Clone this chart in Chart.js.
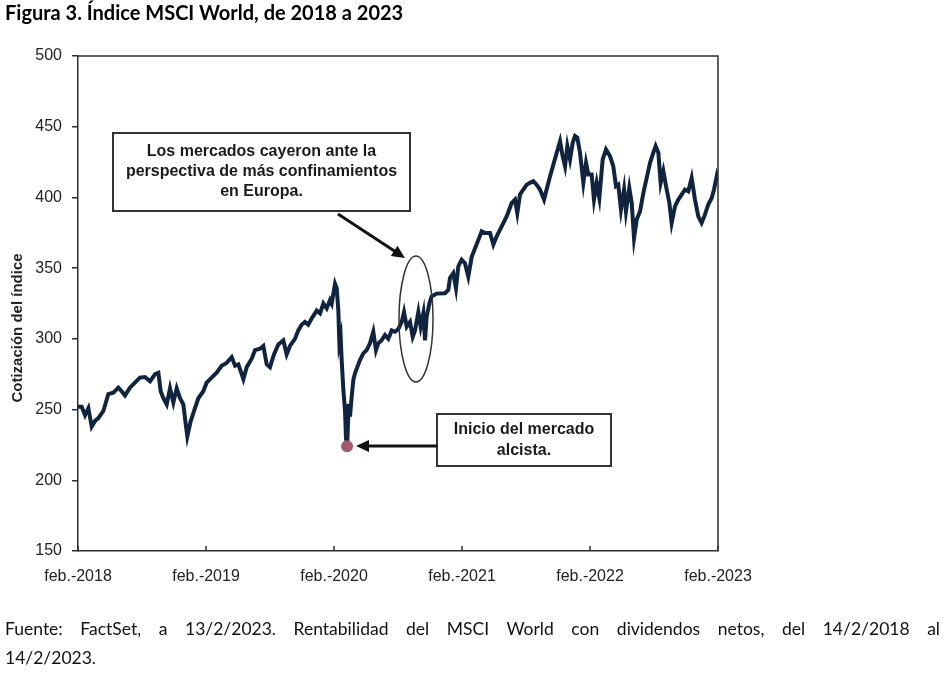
<!DOCTYPE html>
<html lang="es">
<head>
<meta charset="UTF-8">
<title>Índice MSCI World</title>
<script src="https://cdn.jsdelivr.net/npm/chart.js"></script>
<style>
  body { margin: 0; background: #fff; }
  #wrap { position: relative; width: 949px; height: 673px; overflow: hidden; }
  #chart { position: absolute; left: 0; top: 0; }
  .title { position: absolute; left: 5px; top: 0px; font: bold 20px Lato, sans-serif; color: #000; }
  .note { position: absolute; left: 5px; width: 935px; font: 17.5px Lato, sans-serif; color: #111; white-space: nowrap; }
  .note.l1 { top: 618px; text-align: justify; text-align-last: justify; white-space: normal; }
  .note.l2 { top: 647px; }
</style>
</head>
<body>
<div id="wrap">
  <canvas id="chart" width="949" height="673"></canvas>
  <div class="title">Figura 3. Índice MSCI World, de 2018 a 2023</div>
  <div class="note l1">Fuente: FactSet, a 13/2/2023. Rentabilidad del MSCI World con dividendos netos, del 14/2/2018 al</div>
  <div class="note l2">14/2/2023.</div>
</div>
<script>
// years since 14/2/2018 and index level
const t = [0.000, 0.029, 0.055, 0.081, 0.107, 0.133, 0.159, 0.198, 0.237, 0.276,
  0.315, 0.341, 0.367, 0.406, 0.445, 0.484, 0.523, 0.563, 0.602, 0.628,
  0.646, 0.667, 0.693, 0.719, 0.745, 0.771, 0.797, 0.823, 0.844, 0.854,
  0.880, 0.914, 0.940, 0.979, 1.005, 1.044, 1.083, 1.122, 1.161, 1.201,
  1.227, 1.253, 1.292, 1.318, 1.357, 1.383, 1.422, 1.448, 1.474, 1.500,
  1.531, 1.565, 1.604, 1.630, 1.656, 1.695, 1.721, 1.747, 1.773, 1.799,
  1.826, 1.865, 1.891, 1.917, 1.943, 1.969, 1.982, 2.008, 2.021, 2.034,
  2.042, 2.052, 2.060, 2.073, 2.086, 2.094, 2.104, 2.115, 2.125, 2.138,
  2.151, 2.164, 2.182, 2.203, 2.229, 2.255, 2.281, 2.307, 2.328, 2.346,
  2.372, 2.398, 2.424, 2.451, 2.477, 2.503, 2.529, 2.547, 2.568, 2.594,
  2.615, 2.633, 2.659, 2.677, 2.698, 2.711, 2.724, 2.745, 2.763, 2.802,
  2.867, 2.893, 2.906, 2.932, 2.953, 2.971, 2.997, 3.023, 3.049, 3.076,
  3.102, 3.128, 3.154, 3.180, 3.219, 3.245, 3.271, 3.310, 3.349, 3.388,
  3.414, 3.432, 3.453, 3.479, 3.505, 3.531, 3.557, 3.583, 3.609, 3.641,
  3.661, 3.688, 3.714, 3.740, 3.766, 3.786, 3.805, 3.823, 3.844, 3.865,
  3.883, 3.901, 3.922, 3.948, 3.969, 3.987, 4.013, 4.031, 4.052, 4.073,
  4.099, 4.125, 4.156, 4.182, 4.203, 4.221, 4.242, 4.266, 4.281, 4.307,
  4.326, 4.344, 4.365, 4.391, 4.417, 4.443, 4.469, 4.495, 4.513, 4.534,
  4.552, 4.573, 4.594, 4.620, 4.638, 4.664, 4.690, 4.716, 4.742, 4.768,
  4.794, 4.820, 4.846, 4.872, 4.898, 4.924, 4.951, 4.969, 4.990, 5.000];

const msci = [252, 252, 246, 251, 238, 242, 244, 249, 261, 262,
  265.5, 263, 260, 265.5, 269, 272.6, 273, 270, 275, 276,
  263, 258, 253.6, 265, 255, 265, 258, 253.6, 238, 231,
  241.7, 251, 258, 263, 269, 272.6, 276, 281, 283, 287,
  281, 282, 271.5, 280, 286, 292, 293, 295, 282, 280,
  289, 296, 299, 289, 295, 300, 306, 310, 312, 310,
  314.5, 320, 318, 325, 321.6, 327.5, 325, 339, 336, 320,
  297, 301.5, 285, 264, 249.5, 229, 227, 254, 245, 259,
  271, 275.6, 280, 285, 289.7, 292, 296.8, 305, 292, 296.8,
  299, 302.7, 300, 306, 305, 307, 312, 319, 308.6, 312,
  301.5, 306, 319, 308.6, 318, 299, 315.7, 325, 330, 332,
  332.3, 334.6, 343, 346.4, 335.8, 351.2, 356, 353.5, 344, 358,
  364, 370, 376, 374.8, 374.8, 366.6, 372.5, 379.5, 386.6, 396,
  398.5, 389, 402, 405.6, 409, 410.3, 411.5, 409, 405.6, 398.5,
  405.6, 415, 423.3, 431.6, 439.8, 429.2, 422, 436.3, 426.8, 438.7,
  443.4, 442.2, 431.6, 410.3, 424.5, 416.2, 416.2, 398.5, 410.3, 399.6,
  426.8, 433.9, 429.2, 422, 408, 409, 391.4, 405.6, 390.2, 406.7,
  396, 371.3, 384.3, 390.2, 403.2, 413.8, 424.5, 431.6, 436.3, 431.6,
  410.3, 418.6, 408, 396.1, 382, 393.7, 398.5, 402, 405.6, 404.4,
  413.8, 398.5, 386.6, 382, 387.8, 395, 399.6, 405.6, 415, 411.5];

const lowT = [2.102];
const lowV = [224];

const xTickLabels = ['feb.-2018', 'feb.-2019', 'feb.-2020', 'feb.-2021', 'feb.-2022', 'feb.-2023'];
const yMin = 150, yMax = 500, yStep = 50;

const axisColor = '#2e2e2e';

function arrow(ctx, x1, y1, x2, y2) {
  const a = Math.atan2(y2 - y1, x2 - x1);
  const L = 13, W = 6;
  ctx.save();
  ctx.strokeStyle = '#111';
  ctx.fillStyle = '#111';
  ctx.lineWidth = 3;
  ctx.beginPath();
  ctx.moveTo(x1, y1);
  ctx.lineTo(x2 - Math.cos(a) * L * 0.8, y2 - Math.sin(a) * L * 0.8);
  ctx.stroke();
  ctx.beginPath();
  ctx.moveTo(x2, y2);
  ctx.lineTo(x2 - Math.cos(a) * L - Math.sin(a) * W, y2 - Math.sin(a) * L + Math.cos(a) * W);
  ctx.lineTo(x2 - Math.cos(a) * L + Math.sin(a) * W, y2 - Math.sin(a) * L - Math.cos(a) * W);
  ctx.closePath();
  ctx.fill();
  ctx.restore();
}

function box(ctx, x, y, w, h, lines, lineH) {
  ctx.save();
  ctx.fillStyle = '#fff';
  ctx.fillRect(x, y, w, h);
  ctx.strokeStyle = '#333';
  ctx.lineWidth = 2;
  ctx.strokeRect(x, y, w, h);
  ctx.fillStyle = '#1a1a1a';
  ctx.font = 'bold 16px "Liberation Sans", Arial, sans-serif';
  ctx.textAlign = 'center';
  ctx.textBaseline = 'middle';
  const cy = y + h / 2 - (lines.length - 1) * lineH / 2;
  lines.forEach((s, i) => ctx.fillText(s, x + w / 2, cy + i * lineH));
  ctx.restore();
}

const extras = {
  id: 'extras',
  afterDraw(chart) {
    const ctx = chart.ctx;
    const a = chart.chartArea;
    const xs = chart.scales.x;
    ctx.save();
    // frame top + right
    ctx.strokeStyle = axisColor;
    ctx.lineWidth = 1.5;
    ctx.beginPath();
    ctx.moveTo(a.left, a.top);
    ctx.lineTo(a.right, a.top);
    ctx.lineTo(a.right, a.bottom);
    ctx.stroke();
    // inward x ticks
    xs.ticks.forEach(tk => {
      const px = xs.getPixelForValue(tk.value);
      ctx.beginPath();
      ctx.moveTo(px, a.bottom);
      ctx.lineTo(px, a.bottom - 5);
      ctx.stroke();
    });
    // y axis title
    ctx.translate(18, 328);
    ctx.rotate(-Math.PI / 2);
    ctx.fillStyle = '#222';
    ctx.font = 'bold 15px "Liberation Sans", Arial, sans-serif';
    ctx.textAlign = 'center';
    ctx.textBaseline = 'middle';
    ctx.fillText('Cotización del índice', 0, 0);
    ctx.restore();

    // ellipse around the late-2020 dip
    ctx.save();
    ctx.strokeStyle = '#333';
    ctx.lineWidth = 1.5;
    ctx.beginPath();
    ctx.ellipse(416, 319, 17, 63, 0, 0, Math.PI * 2);
    ctx.stroke();
    ctx.restore();

    box(ctx, 113, 133, 297, 78, ['Los mercados cayeron ante la', 'perspectiva de más confinamientos', 'en Europa.'], 20);
    arrow(ctx, 338, 214, 405, 258);
    box(ctx, 437, 414, 174, 52, ['Inicio del mercado', 'alcista.'], 21);
    arrow(ctx, 437, 446, 356, 446);
  }
};

new Chart(document.getElementById('chart'), {
  type: 'line',
  data: {
    datasets: [{
      data: lowT.map((x, i) => ({ x: x, y: lowV[i] })),
      showLine: false,
      pointRadius: 6,
      pointBackgroundColor: '#a65b6e',
      pointBorderWidth: 0,
      order: 0
    }, {
      data: t.map((x, i) => ({ x: x, y: msci[i] })),
      borderColor: '#10243f',
      borderWidth: 4,
      pointRadius: 0,
      tension: 0,
      order: 1
    }]
  },
  options: {
    responsive: false,
    animation: false,
    layout: { padding: { left: 0, top: 56, right: 231, bottom: 0 } },
    plugins: { legend: { display: false }, tooltip: { enabled: false } },
    scales: {
      x: {
        type: 'linear',
        min: 0,
        max: 5,
        afterFit: s => { s.height = 122; },
        ticks: {
          stepSize: 1,
          padding: 8,
          color: '#222',
          font: { family: '"Liberation Sans", Arial, sans-serif', size: 16 },
          callback: v => xTickLabels[v]
        },
        grid: { display: false },
        border: { display: true, color: axisColor, width: 1.5 }
      },
      y: {
        min: yMin,
        max: yMax,
        afterFit: s => { s.width = 78; },
        ticks: {
          stepSize: yStep,
          padding: 10,
          color: '#222',
          font: { family: '"Liberation Sans", Arial, sans-serif', size: 16 }
        },
        grid: { drawOnChartArea: false, tickLength: 6, color: axisColor, lineWidth: 1.5 },
        border: { display: true, color: axisColor, width: 1.5 }
      }
    }
  },
  plugins: [extras]
});
</script>
</body>
</html>
